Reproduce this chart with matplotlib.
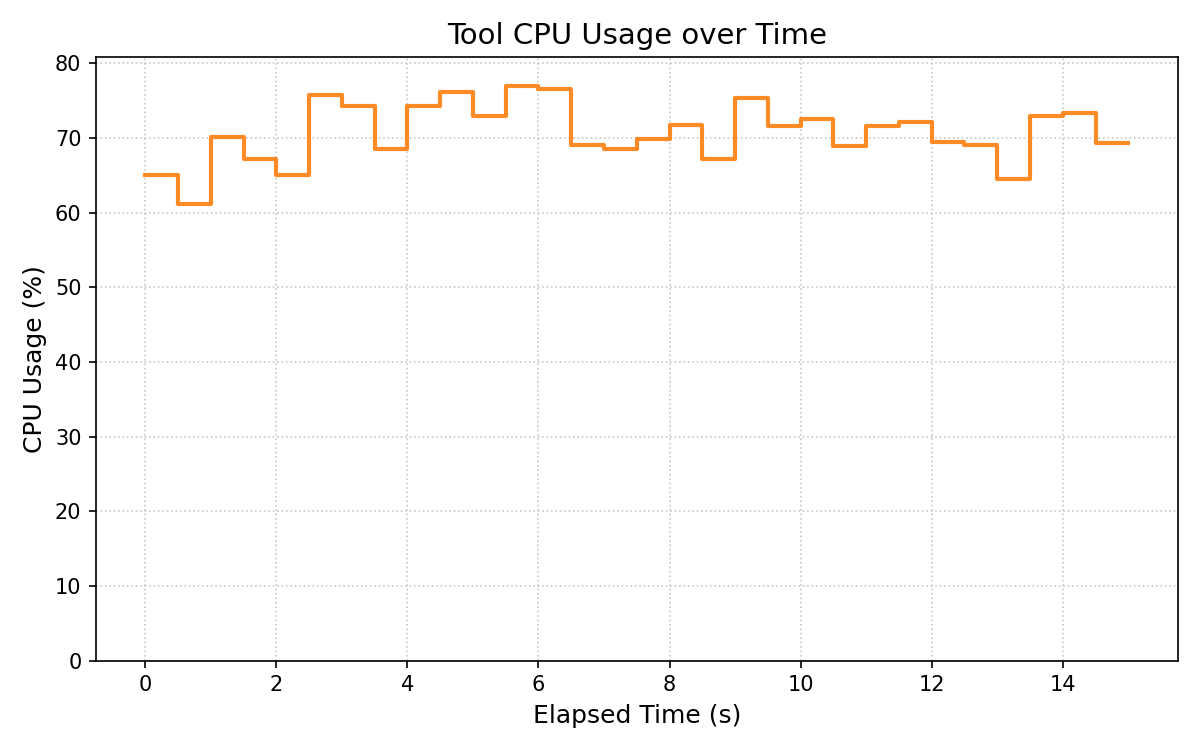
import matplotlib
matplotlib.use('Agg')
import matplotlib.pyplot as plt
import numpy as np

# elapsed time (s) and CPU usage (%) samples
elapsed = np.arange(0, 15.5, 0.5)
cpu_usage = [65.0, 61.2, 70.1, 67.2, 65.1, 75.8, 74.3, 68.5, 74.3, 76.1,
             73.0, 77.0, 76.5, 69.0, 68.5, 69.9, 71.8, 67.2, 75.4, 71.6,
             72.6, 68.9, 71.6, 72.1, 69.5, 69.1, 64.5, 72.9, 73.4, 69.3,
             69.3]

fig, ax = plt.subplots(figsize=(8, 5), dpi=150)
ax.step(elapsed, cpu_usage, where='post', color='#ff7f0e', alpha=0.9, linewidth=2)

ax.set_title('Tool CPU Usage over Time', fontsize=14)
ax.set_xlabel('Elapsed Time (s)', fontsize=12)
ax.set_ylabel('CPU Usage (%)', fontsize=12)
ax.set_ylim(0, max(cpu_usage) * 1.05)
ax.grid(True, linestyle=':', color='#bbbbbb', alpha=0.8)

plt.tight_layout()
plt.savefig('out.png')
